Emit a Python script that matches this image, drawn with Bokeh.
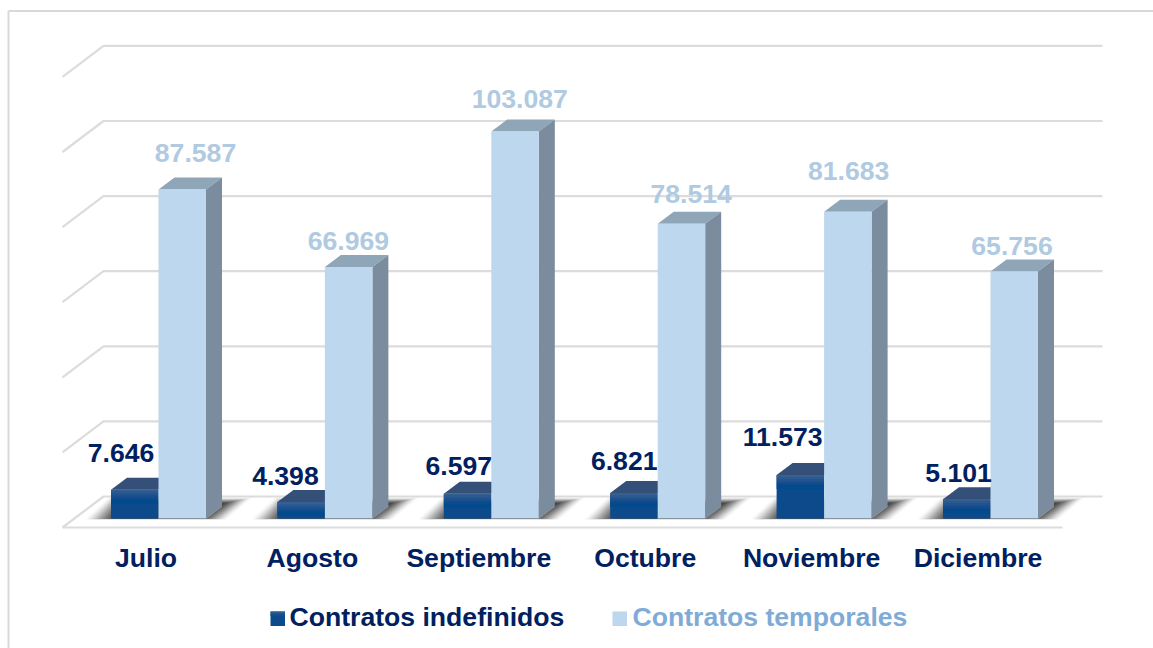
from bokeh.plotting import figure
from bokeh.embed import file_html
from bokeh.resources import INLINE
from bokeh.core.properties import value
from bokeh.models import ColumnDataSource

months = ["Julio", "Agosto", "Septiembre", "Octubre", "Noviembre", "Diciembre"]
indefinidos = [7646, 4398, 6597, 6821, 11573, 5101]
temporales = [87587, 66969, 103087, 78514, 81683, 65756]
indef_labels = ["7.646", "4.398", "6.597", "6.821", "11.573", "5.101"]
temp_labels = ["87.587", "66.969", "103.087", "78.514", "81.683", "65.756"]
grid_values = [0, 20000, 40000, 60000, 80000, 100000, 120000]
legend_names = ["Contratos indefinidos", "Contratos temporales"]

# manual label nudges, in screen pixels
indef_dx = [-37.5, -39.5, -32.5, -33.5, -41.5, -32]
indef_dy = [27, 15.5, 18, 22, 28.5, 16]
temp_dx = [37, 23.5, 28.5, 33.5, 24.5, 21.5]
temp_dy = [27, 16.5, 22, 20, 31, 16]
TEXT_FIX = -10

# geometry: screen-pixel scale of the two axes
PX_PER_CAT = 166.4
PX_PER_UNIT = 0.003755
X0, Y0 = 158.0, 518.0          # screen position of category 0, value 0
PAGE_L, PAGE_T, PAGE_R, PAGE_B = 0, 0, 1153, 648
BAR_W = 47.5
DEPTH_X, DEPTH_Y = 16, 12
FLOOR_X0, FLOOR_X1 = 62, 103
FLOOR_DY = 31
WALL_END = 1102


def sx(px):
    return (px - X0) / PX_PER_CAT


def sy(py):
    return (Y0 - py) / PX_PER_UNIT


dxu = 1 / PX_PER_CAT
dyu = 1 / PX_PER_UNIT

p = figure(width=PAGE_R - PAGE_L, height=PAGE_B - PAGE_T,
           x_range=(sx(PAGE_L), sx(PAGE_R)), y_range=(sy(PAGE_B), sy(PAGE_T)),
           output_backend="svg", toolbar_location=None, min_border=0,
           x_axis_type="linear", y_axis_type="linear")
p.axis.visible = False
p.grid.visible = False
p.outline_line_color = None
p.background_fill_color = "white"

GRID = "#dcdcdc"
# outer frame
p.line([sx(8), sx(8)], [sy(648), sy(10.5)], line_color="#d9d9d9", line_width=2)
p.line([sx(8), sx(1153)], [sy(10.5), sy(10.5)], line_color="#d9d9d9", line_width=2)

# back wall grid lines and their diagonal returns
for v in grid_values:
    yb = v + 22 * dyu
    yf = yb - FLOOR_DY * dyu
    p.line([sx(FLOOR_X0), sx(FLOOR_X1), sx(WALL_END)], [yf, yb, yb],
           line_color=GRID, line_width=2.2)
# front floor edge
p.line([sx(FLOOR_X0), sx(1062)], [22 * dyu - FLOOR_DY * dyu] * 2, line_color=GRID, line_width=2.2)

# floor shadows, built as nested fading parallelograms
for i in range(len(months)):
    c = i * 1.0
    for k in range(20):
        s = k * 1.6
        xs = [c + (-74 + s) * dxu, c + (-50 + s * 0.5) * dxu,
              c + (94 - s * 0.9) * dxu, c + (68 - s * 0.8) * dxu]
        top = 21 - k * 0.3
        bot = 1.0 - k * 0.05
        ys = [-bot * dyu, top * dyu, top * dyu, -bot * dyu]
        p.patch(xs, ys, fill_color="#222222", fill_alpha=0.018 + 0.0065 * k, line_color=None)

# dark bars
for i, val in enumerate(indefinidos):
    l = i - BAR_W * dxu
    r = i * 1.0
    ox, oy = DEPTH_X * dxu, DEPTH_Y * dyu
    p.patch([l, l + ox, r + ox, r], [val, val + oy, val + oy, val],
            fill_color="#344f78", line_color=None)
    p.quad(left=l, right=r, bottom=0, top=val, fill_color="#0c4a8c", line_color=None)
    # lighter band under the top edge
    bands = ["#35608f", "#2c5a92", "#225490", "#184f8e", "#0d4b8d", "#034a8d", "#004a8e"]
    for b, col in enumerate(bands):
        t = val - b * 2 * dyu
        if t <= 0:
            break
        p.quad(left=l, right=r, bottom=max(t - 2 * dyu, 0), top=t, fill_color=col, line_color=None)

# light bars
for i, val in enumerate(temporales):
    l = i * 1.0
    r = i + BAR_W * dxu
    ox, oy = DEPTH_X * dxu, DEPTH_Y * dyu
    p.patch([l, l + ox, r + ox, r], [val, val + oy, val + oy, val],
            fill_color="#8fa5b8", line_color=None)
    p.patch([r, r + ox, r + ox, r], [0, oy, val + oy, val],
            fill_color="#7a8c9d", line_color=None)
    p.quad(left=l, right=r, bottom=0, top=val, fill_color="#bdd7ee", line_color=None)
    p.line([l, r, r + ox], [0, 0, oy], line_color="#8a949c", line_width=1)

FONT = value("Liberation Sans")
SIZE = "26.6px"


def labels(xs, ys, texts, xo, yo, color, align="center"):
    src = ColumnDataSource(dict(x=xs, y=ys, t=texts, xo=xo, yo=[d + TEXT_FIX for d in yo], c=color))
    p.text(x="x", y="y", text="t", x_offset="xo", y_offset="yo", source=src,
           text_font=FONT, text_font_size=value(SIZE), text_font_style="bold",
           text_color="c", text_align=align, text_baseline="alphabetic")


idx = list(range(len(months)))
# Bokeh screen offsets point downward; negate the upward nudges
labels(idx, indefinidos, indef_labels, indef_dx, [-d for d in indef_dy], ["#002060"] * 6)
labels(idx, temporales, temp_labels, temp_dx, [-d for d in temp_dy], ["#afcae1"] * 6)
labels(idx, [0] * 6, months, [-12.5] * 6, [49] * 6, ["#002060"] * 6)

# legend
ly0, ly1 = sy(625.5), sy(611)
p.quad(left=sx(270), right=sx(284.5), bottom=ly0, top=ly1, fill_color="#0c4a8c", line_color=None)
for b, col in enumerate(["#2f5c92", "#225490", "#144e8e"]):
    p.quad(left=sx(270), right=sx(284.5), bottom=ly1 - (b + 1) * 1.5 * dyu, top=ly1 - b * 1.5 * dyu,
           fill_color=col, line_color=None)
p.quad(left=sx(612), right=sx(626.5), bottom=ly0, top=ly1, fill_color="#bdd7ee", line_color=None)
labels([sx(289), sx(632)], [sy(626)] * 2, legend_names, [0, 0], [0, 0], ["#002060", "#7fabd6"], "left")

open("out.html", "w").write(file_html(p, INLINE))
